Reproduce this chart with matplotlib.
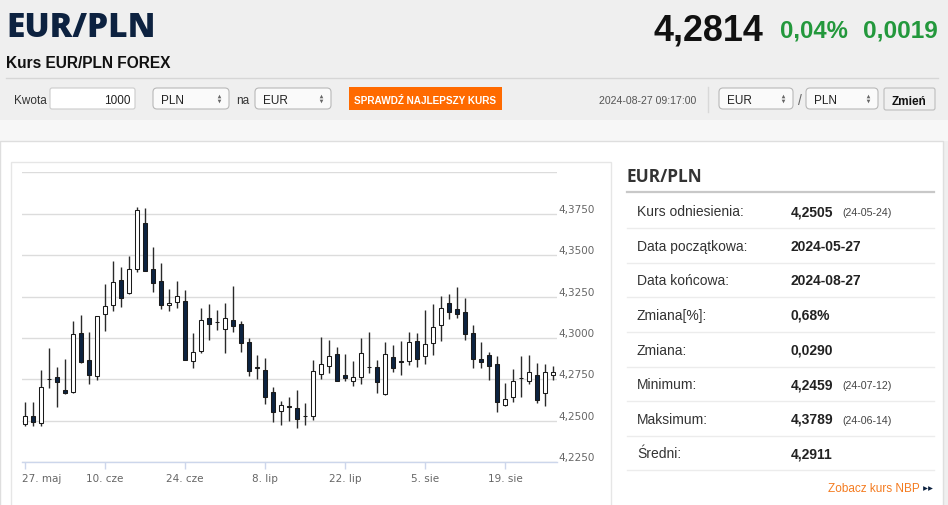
"""EUR/PLN forex page with the 3-month candlestick chart"""
import matplotlib
matplotlib.use('Agg')
import matplotlib.pyplot as plt
import matplotlib.transforms as mtransforms
from matplotlib.patches import Rectangle, FancyBboxPatch
import numpy as np
import pandas as pd

# Daily candles 2024-05-27 .. 2024-08-27 (one per trading day)
dates = pd.bdate_range('2024-05-27', '2024-08-27')
opens = [4.2480, 4.2532, 4.2488, 4.2752, 4.2764, 4.2687, 4.2673, 4.3030, 4.2865, 4.2770,
         4.3147, 4.3202, 4.3351, 4.3270, 4.3415, 4.3697, 4.3415, 4.3343, 4.3200, 4.3218,
         4.3224, 4.2863, 4.2923, 4.3121, 4.3095, 4.3052, 4.3107, 4.3085, 4.2976, 4.2821,
         4.2810, 4.2675, 4.2558, 4.2587, 4.2577, 4.2532, 4.2532, 4.2784, 4.2831, 4.2901,
         4.2776, 4.2740, 4.2764, 4.2823, 4.2823, 4.2661, 4.2887, 4.2859, 4.2863, 4.2982,
         4.2889, 4.2972, 4.3079, 4.3212, 4.3177, 4.3159, 4.3030, 4.2871, 4.2895, 4.2843,
         4.2593, 4.2645, 4.2758, 4.2738, 4.2776, 4.2669, 4.2776]
highs = [4.2613, 4.2613, 4.2806, 4.2942, 4.2825, 4.2871, 4.3103, 4.3137, 4.3036, 4.3131,
         4.3327, 4.3462, 4.3427, 4.3496, 4.3789, 4.3782, 4.3550, 4.3450, 4.3294, 4.3347,
         4.3292, 4.3032, 4.3181, 4.3208, 4.3167, 4.3214, 4.3314, 4.3101, 4.3000, 4.2899,
         4.2879, 4.2706, 4.2619, 4.2647, 4.2687, 4.2607, 4.2865, 4.3008, 4.2988, 4.2944,
         4.2905, 4.2861, 4.3000, 4.3036, 4.2867, 4.2976, 4.2960, 4.2982, 4.3036, 4.3030,
         4.3167, 4.3208, 4.3254, 4.3268, 4.3308, 4.3244, 4.3079, 4.2976, 4.2913, 4.2891,
         4.2730, 4.2812, 4.2889, 4.2897, 4.2851, 4.2843, 4.2831]
lows = [4.2468, 4.2468, 4.2468, 4.2698, 4.2585, 4.2661, 4.2669, 4.2851, 4.2722, 4.2744,
        4.3042, 4.3165, 4.3187, 4.3266, 4.3399, 4.3407, 4.3278, 4.3177, 4.3161, 4.3181,
        4.2869, 4.2821, 4.2907, 4.2986, 4.3046, 4.2909, 4.3034, 4.2915, 4.2770, 4.2750,
        4.2603, 4.2496, 4.2478, 4.2502, 4.2459, 4.2478, 4.2508, 4.2754, 4.2786, 4.2740,
        4.2738, 4.2710, 4.2722, 4.2788, 4.2667, 4.2655, 4.2796, 4.2774, 4.2835, 4.2823,
        4.2845, 4.2899, 4.2980, 4.3117, 4.3121, 4.2986, 4.2821, 4.2821, 4.2744, 4.2556,
        4.2589, 4.2613, 4.2647, 4.2720, 4.2607, 4.2591, 4.2748]
closes = [4.2532, 4.2496, 4.2704, 4.2752, 4.2734, 4.2669, 4.3024, 4.2853, 4.2776, 4.3131,
          4.3194, 4.3337, 4.3242, 4.3419, 4.3772, 4.3407, 4.3331, 4.3200, 4.3212, 4.3254,
          4.2869, 4.2917, 4.3107, 4.3083, 4.3095, 4.3121, 4.3071, 4.2970, 4.2798, 4.2821,
          4.2645, 4.2552, 4.2593, 4.2583, 4.2510, 4.2528, 4.2800, 4.2843, 4.2889, 4.2740,
          4.2758, 4.2764, 4.2911, 4.2823, 4.2734, 4.2905, 4.2817, 4.2855, 4.2976, 4.2871,
          4.2964, 4.3067, 4.3183, 4.3159, 4.3147, 4.3022, 4.2875, 4.2857, 4.2829, 4.2611,
          4.2629, 4.2740, 4.2758, 4.2794, 4.2627, 4.2794, 4.2795]

xtick_pos = [0, 10, 20, 30, 40, 50, 60]
xtick_labels = ['27. maj', '10. cze', '24. cze', '8. lip', '22. lip', '5. sie', '19. sie']
ytick_vals = [4.225, 4.25, 4.275, 4.30, 4.325, 4.35, 4.375, 4.40]
ytick_labels = ['4,2250', '4,2500', '4,2750', '4,3000', '4,3250', '4,3500', '4,3750', '']

# side table
row_labels = ['Kurs odniesienia:', 'Data początkowa:', 'Data końcowa:', 'Zmiana[%]:',
              'Zmiana:', 'Minimum:', 'Maksimum:', 'Średni:']
row_values = ['4,2505', '2024-05-27', '2024-08-27', '0,68%', '0,0290', '4,2459',
              '4,3789', '4,2911']
row_notes = ['(24-05-24)', '', '', '', '', '(24-07-12)', '(24-06-14)', '']

W, H = 948, 506
SANS = 'Liberation Sans'
NAVY = '#0d2240'


def fig_rect(x0, y0, x1, y1):
    return [x0 / W, 1 - y1 / H, (x1 - x0) / W, (y1 - y0) / H]


def select_box(ax, x, w, label):
    ax.add_patch(FancyBboxPatch((x, 89), w, 21, boxstyle='round,pad=0,rounding_size=4',
                                fc='#fafafa', ec='#b8b8b8', lw=0.8))
    ax.text(x + 8, 103.5, label, fontsize=8.5, family=SANS, color='#222')
    ax.plot(x + w - 10, 97.3, marker='^', ms=2.6, color='#666', mew=0)
    ax.plot(x + w - 10, 101.7, marker='v', ms=2.6, color='#666', mew=0)


def plot():
    fig = plt.figure(figsize=(W / 100, H / 100), dpi=100)
    fig.patch.set_facecolor('#efefef')

    # page background / widgets drawn in pixel coordinates
    bg = fig.add_axes([0, 0, 1, 1])
    bg.set_xlim(0, W)
    bg.set_ylim(H, 0)
    bg.axis('off')

    bg.add_patch(Rectangle((0, 121), W, 21, fc='#f7f7f7', ec='none'))
    bg.add_patch(Rectangle((0, 142), 943, 380, fc='white', ec='#dedede', lw=1))
    bg.add_patch(Rectangle((11, 163), 600, 360, fc='white', ec='#e6e6e6', lw=1))

    bg.text(6, 37, 'EUR/PLN', fontsize=24, fontweight=800, family='Open Sans',
            color=NAVY)
    bg.text(6, 68, 'Kurs EUR/PLN FOREX', fontsize=11.2, fontweight='bold', family=SANS,
            color='#111')
    bg.plot([6, 938], [79, 79], color='#d6d6d6', lw=1)

    bg.text(763, 40.5, '4,2814', ha='right', fontsize=25.8, fontweight='bold',
            family=SANS, color='#111')
    bg.text(780, 37.3, '0,04%', fontsize=17.2, fontweight='bold', family=SANS,
            color='#23983c')
    bg.text(938, 37.3, '0,0019', ha='right', fontsize=17.6, fontweight='bold',
            family=SANS, color='#23983c')

    # converter row
    bg.text(14, 104, 'Kwota', fontsize=8.5, family=SANS, color='#333')
    bg.add_patch(FancyBboxPatch((50, 89), 85, 21, boxstyle='round,pad=0,rounding_size=2',
                                fc='white', ec='#cccccc', lw=0.8))
    bg.text(131, 104, '1000', ha='right', fontsize=8.5, family=SANS, color='#222')
    select_box(bg, 153, 76, 'PLN')
    bg.text(236, 104, 'na', fontsize=8.5, family=SANS, color='#333')
    select_box(bg, 255, 76, 'EUR')
    bg.add_patch(Rectangle((349, 88), 153, 23, fc='#ff6a00', ec='none'))
    bg.text(425.5, 103.7, 'SPRAWDŹ NAJLEPSZY KURS', ha='center', fontsize=7.2,
            fontweight='bold', family=SANS, color='white')

    bg.text(696, 104.3, '2024-08-27 09:17:00', ha='right', fontsize=7.6, family=SANS,
            color='#555')
    bg.plot([708, 708], [88, 113], color='#d8d8d8', lw=1)
    select_box(bg, 719, 74, 'EUR')
    bg.text(798, 105, '/', fontsize=10, family=SANS, color='#666')
    select_box(bg, 806, 72, 'PLN')
    bg.add_patch(FancyBboxPatch((884, 89), 51, 22, boxstyle='round,pad=0,rounding_size=2',
                                fc='#f0f0f0', ec='#bdbdbd', lw=0.8))
    bg.text(909.5, 105, 'Zmień', ha='center', fontsize=8.5, fontweight='bold',
            family=SANS, color='#111')

    # side table
    bg.text(627, 182, 'EUR/PLN', fontsize=12.4, fontweight='bold', family='Open Sans',
            color='#333')
    bg.plot([627, 934], [192.7, 192.7], color='#c8c8c8', lw=1.6)
    for k, (lab, val, note) in enumerate(zip(row_labels, row_values, row_notes)):
        base = 216.2 + 34.6 * k
        bg.text(637, base, lab, fontsize=10, family=SANS, color='#333')
        bg.text(790.5, base, val, fontsize=10, fontweight='bold', family=SANS,
                color='#222')
        if note:
            bg.text(842, base, note, fontsize=7.7, family=SANS, color='#444')
        bg.plot([627, 934], [base + 13, base + 13], color='#ececec', lw=1)
    bg.text(920, 492, 'Zobacz kurs NBP', ha='right', fontsize=8.5, family=SANS,
            color='#f47b20')
    bg.plot([925.3, 930], [488.7, 488.7], ls='none', marker='>', ms=3.4, mew=0,
            color=NAVY)

    # candlestick chart
    ax = fig.add_axes(fig_rect(22, 173.3, 557, 463.3))
    ax.set_facecolor('none')
    x = np.arange(len(dates))
    o = np.array(opens)
    c = np.array(closes)
    ax.vlines(x, lows, highs, color='#2a2a2a', lw=1, zorder=2)
    body_low = np.minimum(o, c)
    body_h = np.maximum(np.abs(c - o), 0.00012)
    colours = np.where(c >= o, 'white', '#0c2340')
    ax.bar(x, body_h, 0.45, body_low, color=colours, edgecolor='#1a1a1a', lw=0.75,
           zorder=3)

    ax.set_xlim(-0.375, 66.5)
    ax.set_ylim(4.225, 4.40)
    for side in ['top', 'left', 'right']:
        ax.spines[side].set_visible(False)
    ax.spines['bottom'].set_color('#ccd6eb')
    ax.spines['bottom'].set_linewidth(1)
    ax.spines['bottom'].set_zorder(1)

    ax.set_xticks(xtick_pos)
    ax.set_xticklabels(xtick_labels)
    ax.tick_params(axis='x', colors='#ccd6eb', length=5, width=1, labelcolor='#666',
                   labelsize=7.5, pad=2.5)
    ax.yaxis.tick_right()
    ax.set_yticks(ytick_vals)
    ax.set_yticklabels(ytick_labels)
    ax.tick_params(axis='y', length=0, labelcolor='#666', labelsize=7.5, pad=1.3)
    ax.grid(axis='y', color='#dcdcdc', lw=1)
    ax.set_axisbelow(True)

    up = mtransforms.ScaledTranslation(0, 0.06, fig.dpi_scale_trans)
    for lab in ax.get_yticklabels():
        lab.set_transform(lab.get_transform() + up)
    first = ax.get_xticklabels()[0]
    first.set_horizontalalignment('left')
    first.set_transform(first.get_transform() +
                        mtransforms.ScaledTranslation(-0.033, 0, fig.dpi_scale_trans))

    fig.savefig('out.png', dpi=100, facecolor=fig.get_facecolor())
    plt.close(fig)


if __name__ == "__main__":
    plot()
